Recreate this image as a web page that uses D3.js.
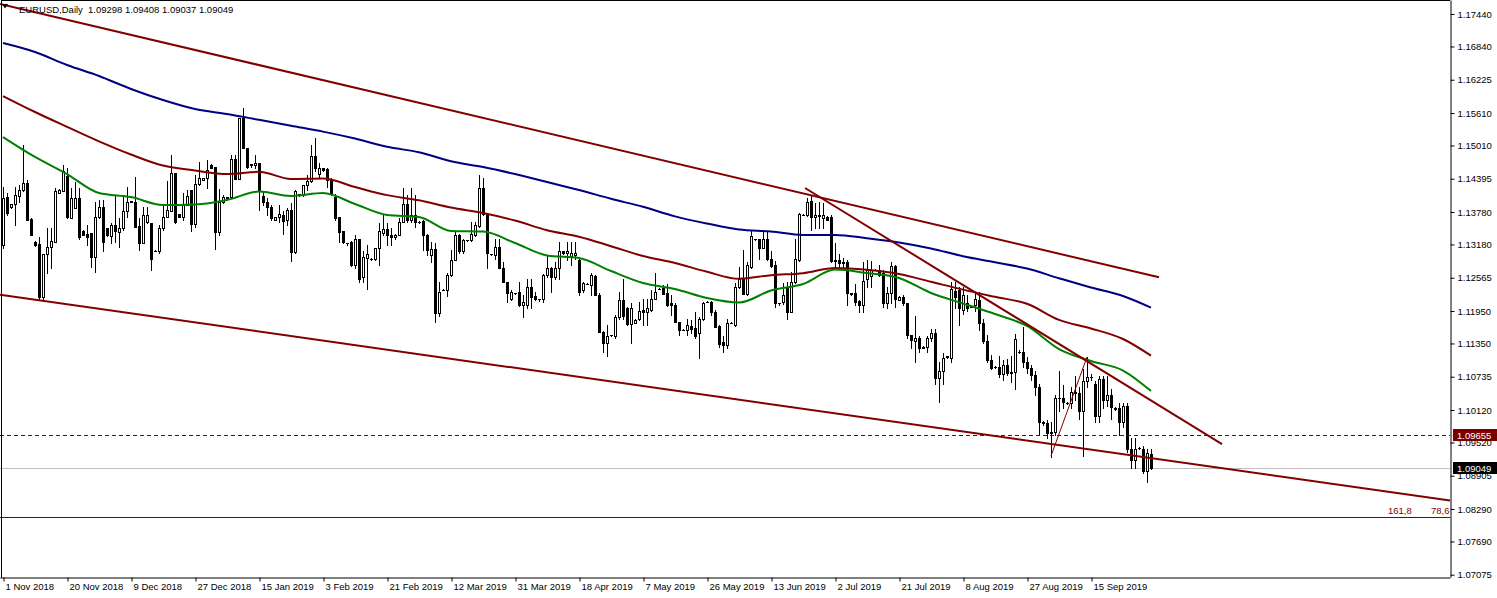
<!DOCTYPE html>
<html><head><meta charset="utf-8">
<script src="https://cdn.jsdelivr.net/npm/d3@7"></script>
<style>
body{margin:0;background:#fff}
svg{display:block}
text{font-family:"Liberation Sans",Arial,sans-serif;font-size:9.5px;fill:#000}
</style></head><body>
<svg id="c" width="1497" height="598"></svg>
<script>
// ---- DATA (EURUSD Daily, bars Sun..Fri from 1 Nov 2018) ----
const open=[
1.1317,1.1405,1.1387,1.1392,1.1408,1.1419,1.1431,1.1365,
1.1323,1.1318,1.1220,1.1300,1.1314,1.1323,1.1414,1.1417,
1.1445,1.1366,1.1386,1.1403,1.1343,1.1337,1.1339,1.1294,
1.1368,1.1388,1.1348,1.1333,1.1354,1.1341,1.1348,1.1379,
1.1397,1.1397,1.1353,1.1320,1.1359,1.1357,1.1306,1.1305,
1.1348,1.1369,1.1380,1.1450,1.1374,1.1368,1.1391,1.1419,
1.1355,1.1429,1.1437,1.1440,1.1465,1.1461,1.1341,1.1397,
1.1403,1.1405,1.1476,1.1439,1.1551,1.1497,1.1464,1.1464,
1.1468,1.1408,1.1397,1.1387,1.1363,1.1368,1.1372,1.1363,
1.1382,1.1304,1.1409,1.1410,1.1428,1.1435,1.1481,1.1448,
1.1459,1.1457,1.1437,1.1406,1.1369,1.1343,1.1320,1.1323,
1.1280,1.1329,1.1258,1.1293,1.1292,1.1292,1.1311,1.1340,
1.1346,1.1336,1.1332,1.1336,1.1359,1.1392,1.1363,1.1372,
1.1360,1.1361,1.1336,1.1298,1.1309,1.1192,1.1233,1.1234,
1.1261,1.1289,1.1336,1.1305,1.1326,1.1326,1.1335,1.1353,
1.1422,1.1374,1.1300,1.1298,1.1314,1.1275,1.1249,1.1218,
1.1228,1.1231,1.1206,1.1207,1.1240,1.1222,1.1217,1.1218,
1.1261,1.1274,1.1258,1.1274,1.1305,1.1303,1.1296,1.1298,
1.1289,1.1233,1.1245,1.1243,1.1259,1.1225,1.1157,1.1135,
1.1150,1.1148,1.1183,1.1215,1.1200,1.1171,1.1172,1.1181,
1.1196,1.1194,1.1196,1.1218,1.1236,1.1237,1.1228,1.1209,
1.1206,1.1175,1.1160,1.1160,1.1168,1.1164,1.1154,1.1181,
1.1212,1.1212,1.1194,1.1168,1.1138,1.1132,1.1173,1.1170,
1.1240,1.1255,1.1226,1.1277,1.1328,1.1329,1.1312,1.1329,
1.1292,1.1280,1.1209,1.1212,1.1240,1.1194,1.1248,1.1290,
1.1373,1.1373,1.1399,1.1368,1.1370,1.1366,1.1369,1.1368,
1.1287,1.1289,1.1283,1.1285,1.1226,1.1229,1.1214,1.1207,
1.1255,1.1260,1.1271,1.1271,1.1265,1.1209,1.1229,1.1278,
1.1216,1.1221,1.1209,1.1151,1.1140,1.1145,1.1127,1.1128,
1.1145,1.1155,1.1071,1.1085,1.1110,1.1108,1.1232,1.1234,
1.1197,1.1210,1.1203,1.1206,1.1215,1.1172,1.1140,1.1105,
1.1092,1.1092,1.1078,1.1096,1.1080,1.1083,1.1120,1.1120,
1.1100,1.1090,1.1077,1.1055,1.0990,1.0988,1.0970,1.0972,
1.1034,1.1035,1.1025,1.1025,1.1045,1.1043,1.1010,1.1065,
1.1073,1.1060,1.1000,1.1070,1.1030,1.1040,1.1013,1.1015,
1.0990,1.1020,1.0940,1.0920,1.0942,1.0940,1.0900,1.09298];
const high=[
1.1425,1.1414,1.1393,1.1425,1.1428,1.1502,1.1437,1.1366,
1.1324,1.1331,1.1300,1.1349,1.1348,1.1422,1.1420,1.1464,
1.1459,1.1422,1.1434,1.1422,1.1344,1.1354,1.1339,1.1397,
1.1400,1.1400,1.1349,1.1357,1.1409,1.1366,1.1409,1.1425,
1.1399,1.1443,1.1366,1.1388,1.1388,1.1357,1.1307,1.1354,
1.1392,1.1435,1.1483,1.1450,1.1375,1.1414,1.1419,1.1419,
1.1446,1.1471,1.1441,1.1474,1.1467,1.1461,1.1420,1.1409,
1.1406,1.1483,1.1483,1.1551,1.1570,1.1497,1.1466,1.1483,
1.1468,1.1416,1.1403,1.1391,1.1368,1.1391,1.1379,1.1385,
1.1394,1.1419,1.1411,1.1428,1.1446,1.1502,1.1514,1.1468,
1.1459,1.1459,1.1440,1.1412,1.1369,1.1343,1.1321,1.1324,
1.1335,1.1329,1.1305,1.1317,1.1293,1.1311,1.1357,1.1372,
1.1357,1.1348,1.1337,1.1366,1.1422,1.1409,1.1422,1.1409,
1.1361,1.1364,1.1338,1.1323,1.1320,1.1249,1.1235,1.1266,
1.1308,1.1341,1.1338,1.1329,1.1327,1.1359,1.1359,1.1447,
1.1440,1.1374,1.1300,1.1329,1.1329,1.1286,1.1249,1.1234,
1.1229,1.1249,1.1225,1.1255,1.1255,1.1231,1.1218,1.1264,
1.1298,1.1277,1.1286,1.1323,1.1305,1.1323,1.1323,1.1323,
1.1295,1.1249,1.1246,1.1265,1.1262,1.1228,1.1158,1.1169,
1.1151,1.1188,1.1231,1.1255,1.1203,1.1209,1.1181,1.1212,
1.1218,1.1218,1.1234,1.1265,1.1237,1.1243,1.1245,1.1225,
1.1209,1.1175,1.1161,1.1181,1.1178,1.1194,1.1184,1.1212,
1.1213,1.1213,1.1197,1.1169,1.1148,1.1181,1.1174,1.1246,
1.1277,1.1308,1.1286,1.1343,1.1329,1.1329,1.1342,1.1342,
1.1305,1.1288,1.1210,1.1246,1.1249,1.1268,1.1329,1.1376,
1.1374,1.1403,1.1407,1.1394,1.1397,1.1394,1.1370,1.1372,
1.1321,1.1301,1.1293,1.1290,1.1229,1.1245,1.1215,1.1286,
1.1289,1.1287,1.1272,1.1280,1.1271,1.1240,1.1286,1.1280,
1.1222,1.1225,1.1209,1.1151,1.1185,1.1148,1.1130,1.1149,
1.1162,1.1162,1.1100,1.1117,1.1112,1.1249,1.1249,1.1240,
1.1240,1.1225,1.1204,1.1230,1.1230,1.1180,1.1150,1.1114,
1.1094,1.1112,1.1105,1.1107,1.1112,1.1153,1.1122,1.1165,
1.1110,1.1095,1.1085,1.1060,1.0992,1.0994,1.0990,1.1040,
1.1085,1.1058,1.1026,1.1055,1.1075,1.1055,1.1087,1.1110,
1.1078,1.1065,1.1075,1.1075,1.1075,1.1050,1.1017,1.1025,
1.1025,1.1025,1.0960,1.0960,1.0944,1.0945,1.0940,1.09408];
const low=[
1.1312,1.1372,1.1385,1.1354,1.1397,1.1416,1.1363,1.1335,
1.1316,1.1217,1.1215,1.1265,1.1274,1.1322,1.1413,1.1416,
1.1366,1.1366,1.1385,1.1329,1.1336,1.1317,1.1277,1.1268,
1.1366,1.1305,1.1333,1.1320,1.1323,1.1314,1.1345,1.1369,
1.1396,1.1351,1.1308,1.1320,1.1357,1.1271,1.1305,1.1303,
1.1345,1.1369,1.1379,1.1357,1.1368,1.1363,1.1391,1.1342,
1.1350,1.1428,1.1437,1.1422,1.1459,1.1310,1.1336,1.1394,
1.1402,1.1404,1.1439,1.1439,1.1497,1.1459,1.1462,1.1459,
1.1382,1.1391,1.1372,1.1363,1.1363,1.1360,1.1337,1.1354,
1.1288,1.1302,1.1408,1.1407,1.1419,1.1434,1.1453,1.1443,
1.1454,1.1425,1.1409,1.1363,1.1323,1.1320,1.1317,1.1278,
1.1274,1.1249,1.1249,1.1236,1.1290,1.1289,1.1280,1.1335,
1.1317,1.1317,1.1329,1.1335,1.1359,1.1360,1.1360,1.1351,
1.1358,1.1307,1.1298,1.1286,1.1175,1.1185,1.1233,1.1222,
1.1260,1.1289,1.1303,1.1302,1.1325,1.1324,1.1334,1.1351,
1.1372,1.1274,1.1298,1.1292,1.1274,1.1249,1.1212,1.1215,
1.1227,1.1204,1.1184,1.1200,1.1200,1.1215,1.1214,1.1212,
1.1258,1.1231,1.1255,1.1255,1.1301,1.1289,1.1280,1.1292,
1.1225,1.1231,1.1244,1.1225,1.1224,1.1156,1.1120,1.1112,
1.1149,1.1146,1.1181,1.1181,1.1170,1.1136,1.1172,1.1178,
1.1169,1.1169,1.1195,1.1217,1.1235,1.1226,1.1205,1.1188,
1.1174,1.1151,1.1159,1.1151,1.1154,1.1145,1.1108,1.1179,
1.1211,1.1188,1.1166,1.1129,1.1120,1.1126,1.1172,1.1167,
1.1237,1.1226,1.1225,1.1275,1.1327,1.1292,1.1311,1.1290,
1.1277,1.1202,1.1207,1.1208,1.1181,1.1193,1.1247,1.1288,
1.1372,1.1370,1.1345,1.1348,1.1348,1.1348,1.1364,1.1286,
1.1277,1.1272,1.1275,1.1207,1.1225,1.1207,1.1193,1.1194,
1.1240,1.1240,1.1270,1.1259,1.1203,1.1200,1.1209,1.1203,
1.1216,1.1206,1.1145,1.1126,1.1101,1.1120,1.1126,1.1120,
1.1140,1.1060,1.1027,1.1060,1.1108,1.1101,1.1200,1.1170,
1.1190,1.1195,1.1202,1.1195,1.1160,1.1135,1.1100,1.1087,
1.1090,1.1073,1.1068,1.1076,1.1064,1.1050,1.1118,1.1092,
1.1080,1.1068,1.1040,1.0965,1.0985,1.0960,1.0926,1.0965,
1.1010,1.1015,1.1024,1.1015,1.1030,1.0995,1.0927,1.1055,
1.1068,1.0990,1.0990,1.1015,1.1020,1.0995,1.1012,1.0965,
1.0980,1.0935,1.0905,1.0905,1.0940,1.0895,1.0879,1.09037];
const close=[
1.1403,1.1377,1.1392,1.1409,1.1419,1.1431,1.1363,1.1336,
1.1317,1.1220,1.1300,1.1314,1.1324,1.1417,1.1419,1.1453,
1.1368,1.1403,1.1403,1.1331,1.1336,1.1331,1.1294,1.1368,
1.1388,1.1322,1.1335,1.1354,1.1342,1.1348,1.1379,1.1397,
1.1398,1.1351,1.1320,1.1372,1.1372,1.1292,1.1306,1.1348,
1.1369,1.1381,1.1450,1.1359,1.1368,1.1391,1.1408,1.1355,
1.1429,1.1441,1.1441,1.1456,1.1460,1.1341,1.1397,1.1406,
1.1406,1.1476,1.1439,1.1551,1.1497,1.1462,1.1466,1.1468,
1.1419,1.1396,1.1388,1.1366,1.1368,1.1374,1.1361,1.1382,
1.1304,1.1416,1.1411,1.1428,1.1435,1.1481,1.1459,1.1459,
1.1455,1.1437,1.1413,1.1366,1.1341,1.1323,1.1320,1.1280,
1.1329,1.1255,1.1295,1.1301,1.1292,1.1311,1.1342,1.1346,
1.1335,1.1332,1.1336,1.1359,1.1392,1.1363,1.1372,1.1360,
1.1359,1.1336,1.1307,1.1309,1.1192,1.1231,1.1234,1.1261,
1.1289,1.1336,1.1305,1.1326,1.1326,1.1337,1.1354,1.1422,
1.1375,1.1302,1.1300,1.1314,1.1275,1.1249,1.1228,1.1231,
1.1228,1.1206,1.1212,1.1240,1.1221,1.1218,1.1217,1.1261,
1.1274,1.1258,1.1274,1.1305,1.1302,1.1305,1.1302,1.1303,
1.1231,1.1246,1.1245,1.1262,1.1225,1.1156,1.1135,1.1148,
1.1150,1.1183,1.1215,1.1185,1.1171,1.1200,1.1179,1.1195,
1.1193,1.1200,1.1218,1.1231,1.1236,1.1226,1.1206,1.1206,
1.1175,1.1160,1.1160,1.1169,1.1162,1.1148,1.1181,1.1209,
1.1212,1.1194,1.1166,1.1134,1.1132,1.1172,1.1173,1.1240,
1.1255,1.1226,1.1280,1.1333,1.1328,1.1311,1.1329,1.1292,
1.1278,1.1209,1.1210,1.1224,1.1194,1.1248,1.1292,1.1374,
1.1373,1.1397,1.1368,1.1373,1.1373,1.1372,1.1364,1.1287,
1.1289,1.1283,1.1285,1.1228,1.1229,1.1212,1.1207,1.1251,
1.1271,1.1271,1.1271,1.1262,1.1209,1.1229,1.1278,1.1218,
1.1221,1.1209,1.1151,1.1142,1.1145,1.1127,1.1129,1.1145,
1.1155,1.1071,1.1085,1.1108,1.1111,1.1235,1.1220,1.1200,
1.1225,1.1200,1.1203,1.1218,1.1172,1.1140,1.1105,1.1090,
1.1092,1.1078,1.1096,1.1080,1.1083,1.1143,1.1120,1.1100,
1.1090,1.1077,1.1055,1.0990,1.0988,1.0970,1.0972,1.1034,
1.1035,1.1027,1.1025,1.1045,1.1043,1.1010,1.1065,1.1073,
1.1073,1.1000,1.1070,1.1030,1.1040,1.1017,1.1016,1.0990,
1.1020,1.0940,1.0920,1.0940,1.0942,1.0900,1.0932,1.09049];

// moving averages, read every 8 bars
const maBars=[0,8,16,24,32,40,48,56,64,72,80,88,96,104,112,120,128,136,144,152,160,168,176,184,192,200,208,216,224,232,240,248,256,264,272,280,287];
const maGreen=[1.15166,1.14797,1.14482,1.14131,1.14057,1.13909,1.13919,1.14002,1.14159,1.14076,1.14131,1.13928,1.13725,1.13688,1.13429,1.13420,1.13207,1.12976,1.12930,1.12689,1.12468,1.12357,1.12190,1.12107,1.12329,1.12449,1.12717,1.12652,1.12560,1.12283,1.12089,1.11894,1.11673,1.11247,1.11026,1.10850,1.10471];
const maRed=[1.15924,1.15629,1.15355,1.15087,1.14843,1.14638,1.14547,1.14482,1.14523,1.14390,1.14399,1.14242,1.14092,1.13996,1.13863,1.13762,1.13623,1.13444,1.13323,1.13148,1.12967,1.12837,1.12675,1.12545,1.12612,1.12649,1.12747,1.12712,1.12634,1.12490,1.12345,1.12212,1.12083,1.11787,1.11628,1.11432,1.11124];
const maBlue=[1.16904,1.16738,1.16497,1.16294,1.16054,1.15850,1.15684,1.15592,1.15484,1.15374,1.15266,1.15137,1.14985,1.14885,1.14717,1.14612,1.14482,1.14335,1.14187,1.14024,1.13876,1.13699,1.13567,1.13457,1.13421,1.13355,1.13355,1.13296,1.13218,1.13107,1.12963,1.12852,1.12734,1.12556,1.12384,1.12227,1.12011];

// drawn objects: [bar, price] anchors
const upperChannel=[[-0.75,1.17625],[289,1.12573]];
const lowerChannel=[[-0.75,1.12251],[361.75,1.08445]];
const downTrend=[[200.5,1.14224],[304.75,1.09491]];
const swingLine=[[262,1.0927],[271,1.1110]];
const dashedLevel=1.09655, bidLevel=1.09049, fibLevel=1.0814;
const fibLabels=["161,8","78,6"];

const priceTicks=[1.17440,1.16840,1.16225,1.15610,1.15010,1.14395,1.13780,1.13180,1.12565,1.11950,1.11350,1.10735,1.10120,1.09520,1.08905,1.08290,1.07690,1.07075];
const dateLabels=["1 Nov 2018","20 Nov 2018","9 Dec 2018","27 Dec 2018","15 Jan 2019","3 Feb 2019","21 Feb 2019","12 Mar 2019","31 Mar 2019","18 Apr 2019","7 May 2019","26 May 2019","13 Jun 2019","2 Jul 2019","21 Jul 2019","8 Aug 2019","27 Aug 2019","15 Sep 2019"];
const dateBars=dateLabels.map((d,i)=>i*16);
const header=["EURUSD,Daily","1.09298 1.09408 1.09037 1.09049"];

// ---- DRAW ----
const PW=1450, PH=577;
const svg=d3.select('#c');
const x=d3.scaleLinear().domain([-0.75,361.75]).range([0,PW]);
const y=d3.scaleLinear().domain([1.07033,1.17699]).range([PH,0]);
const maroon='#800000';

svg.append('defs').append('clipPath').attr('id','clip')
  .append('rect').attr('x',0).attr('y',0).attr('width',PW).attr('height',PH);
const plot=svg.append('g').attr('clip-path','url(#clip)');

// horizontal levels behind candles
plot.append('line').attr('x1',0).attr('x2',PW)
  .attr('y1',Math.round(y(bidLevel))+0.5).attr('y2',Math.round(y(bidLevel))+0.5)
  .attr('stroke','#c0c0c0').attr('stroke-width',1);

// candles
const bars=d3.range(open.length);
const cg=plot.append('g');
bars.forEach(i=>{
  const cx=Math.round(x(i));
  const o=open[i],c=close[i];
  cg.append('line').attr('x1',cx+0.5).attr('x2',cx+0.5)
    .attr('y1',Math.round(y(high[i]))).attr('y2',Math.round(y(low[i]))+1)
    .attr('stroke','#000').attr('stroke-width',1);
  const yt=Math.round(y(Math.max(o,c))), yb=Math.round(y(Math.min(o,c)));
  if(yb-yt<1){
    cg.append('line').attr('x1',cx-1).attr('x2',cx+2).attr('y1',yt+0.5).attr('y2',yt+0.5)
      .attr('stroke','#000').attr('stroke-width',1);
  } else {
    cg.append('rect').attr('x',cx-0.5).attr('y',yt+0.5).attr('width',2).attr('height',yb-yt)
      .attr('fill',c>=o?'#fff':'#000').attr('stroke','#000').attr('stroke-width',1);
  }
});

// moving averages
const maLine=d3.line().x((d,i)=>x(maBars[i])).y(d=>y(d)).curve(d3.curveMonotoneX);
[[maBlue,'#000080'],[maRed,maroon],[maGreen,'#008000']].forEach(([arr,col])=>{
  plot.append('path').attr('d',maLine(arr)).attr('fill','none').attr('stroke',col).attr('stroke-width',2);
});

// trend objects
const seg=d3.line().x(d=>x(d[0])).y(d=>y(d[1]));
[upperChannel,lowerChannel,downTrend].forEach(l=>{
  plot.append('path').attr('d',seg(l)).attr('fill','none').attr('stroke',maroon).attr('stroke-width',2);
});
plot.append('path').attr('d',seg(swingLine)).attr('fill','none').attr('stroke',maroon).attr('stroke-width',1);

// dashed level
plot.append('line').attr('x1',0).attr('x2',PW)
  .attr('y1',Math.round(y(dashedLevel))+0.5).attr('y2',Math.round(y(dashedLevel))+0.5)
  .attr('stroke',maroon).attr('stroke-width',1).attr('stroke-dasharray','4,3');
// fibo level
plot.append('line').attr('x1',0).attr('x2',PW)
  .attr('y1',Math.round(y(fibLevel))+0.5).attr('y2',Math.round(y(fibLevel))+0.5)
  .attr('stroke',maroon).attr('stroke-width',1);
svg.append('text').attr('x',1388).attr('y',Math.round(y(fibLevel))-3).text(fibLabels[0]).style('fill',maroon);
svg.append('text').attr('x',1431).attr('y',Math.round(y(fibLevel))-3).text(fibLabels[1]).style('fill',maroon);

// frame
svg.append('line').attr('x1',1.5).attr('x2',1.5).attr('y1',0).attr('y2',PH+1).attr('stroke','#000');
svg.append('line').attr('x1',1).attr('x2',PW).attr('y1',0.5).attr('y2',0.5).attr('stroke','#000');

// right price axis
const yAxis=d3.axisRight(y).tickValues(priceTicks).tickSize(4).tickSizeOuter(0).tickPadding(3)
  .tickFormat(d=>d.toFixed(5));
const ya=svg.append('g').attr('transform',`translate(${PW+0.5},0)`).call(yAxis);
ya.select('.domain').attr('stroke','#000');
ya.selectAll('text').style('font-family','"Liberation Sans",Arial,sans-serif').style('font-size','9.5px');

// bottom time axis
const xAxis=d3.axisBottom(x).tickValues(dateBars).tickSize(4).tickSizeOuter(0)
  .tickFormat((d,i)=>dateLabels[i]);
const xa=svg.append('g').attr('transform',`translate(0,${PH+0.5})`).call(xAxis);
xa.select('.domain').attr('stroke','#000');
xa.selectAll('.tick line').attr('transform','translate(0.5,0)');
xa.selectAll('text').attr('text-anchor','start').attr('x',2).attr('y',6)
  .style('font-family','"Liberation Sans",Arial,sans-serif').style('font-size','9.5px');

// price labels on axis
function priceBox(p,fill){
  const yy=Math.round(y(p));
  svg.append('rect').attr('x',1453).attr('y',yy-6).attr('width',44).attr('height',12).attr('fill',fill);
  svg.append('text').attr('x',1457).attr('y',yy+3.5).text(p.toFixed(5)).style('fill','#fff');
}
priceBox(dashedLevel,'#7a0000');
priceBox(bidLevel,'#000');

// header
svg.append('path').attr('d','M2,4 L8,4 L5,8.5 Z').attr('fill','#000');
svg.append('text').attr('x',19).attr('y',13).text(header[0]);
svg.append('text').attr('x',88).attr('y',13).text(header[1]);
</script>
</body></html>
